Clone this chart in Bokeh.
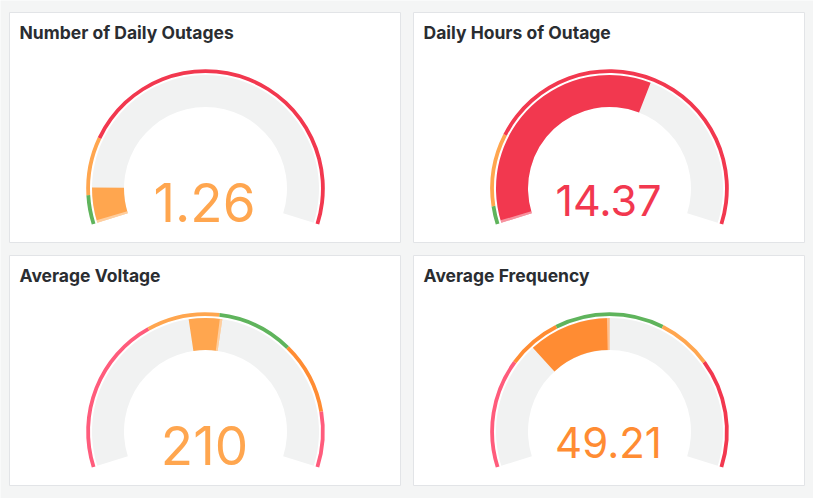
import math
from bokeh.plotting import figure
from bokeh.models import Range1d
from bokeh.core.properties import value
from bokeh.embed import file_html
from bokeh.resources import INLINE

# gauge data
titles = ["Number of Daily Outages", "Daily Hours of Outage", "Average Voltage", "Average Frequency"]
readings = [1.26, 14.37, 210, 49.21]
labels = ["1.26", "14.37", "210", "49.21"]
gauge_min = [0, 0, 152, 48]
gauge_max = [15, 24, 278, 52]
bar_start = [0, 0, 220, 50]          # where the filled bar begins
step_edges = [[1, 3], [1, 5], [198, 219, 241, 262], [49, 49.5, 50.5, 51]]

# colours
GREEN = "#5FB45C"
LORANGE = "#FFA64F"
ORANGE = "#FF8C33"
RED = "#F2384F"
PINK = "#FF5C7C"
BAND = "#F1F2F2"
BG = "#F4F5F5"

step_colors = [
    [GREEN, LORANGE, RED],
    [GREEN, LORANGE, RED],
    [PINK, LORANGE, GREEN, ORANGE, PINK],
    [PINK, ORANGE, GREEN, LORANGE, RED],
]
value_colors = [LORANGE, RED, LORANGE, ORANGE]
value_sizes = [53, 43, 53, 42]

W, H = 813, 498
panel_left = [9, 413, 9, 413]
panel_top = [12, 12, 255, 255]
PW, PH = 391, 230

A0, SPAN = 197.6, 215.2   # gauge sweep in degrees
SHIFT = 0.36              # baseline correction, in em


def fy(Y):
    return H - Y


def ang(v, lo, hi):
    return math.radians(A0 - SPAN * (v - lo) / (hi - lo))


p = figure(width=W, height=H, x_range=Range1d(0, W), y_range=Range1d(0, H),
           x_axis_type=None, y_axis_type=None, min_border=0,
           output_backend="svg", toolbar_location=None)
p.outline_line_color = None
p.background_fill_color = BG
p.border_fill_color = BG

# panel cards
p.quad(left=panel_left, right=[l + PW for l in panel_left],
       top=[fy(t) for t in panel_top], bottom=[fy(t + PH) for t in panel_top],
       fill_color="white", line_color="#E2E4E7", line_width=1)

for i in range(4):
    lo, hi = gauge_min[i], gauge_max[i]
    cx = panel_left[i] + 196
    cy = fy(panel_top[i] + 176)

    # background band
    p.annular_wedge(x=cx, y=cy, inner_radius=81.5, outer_radius=113.5,
                    start_angle=ang(hi, lo, hi), end_angle=ang(lo, lo, hi),
                    color=BAND, line_color=None)

    # value bar
    a, b = sorted([bar_start[i], readings[i]])
    p.annular_wedge(x=cx, y=cy, inner_radius=81.5, outer_radius=113.5,
                    start_angle=ang(b, lo, hi), end_angle=ang(a, lo, hi),
                    color=value_colors[i], line_color=None)
    # light edge where the bar begins
    a_s = ang(bar_start[i], lo, hi)
    d = math.radians(1.3) * (1 if readings[i] > bar_start[i] else -1)
    p.annular_wedge(x=cx, y=cy, inner_radius=81.5, outer_radius=113.5,
                    start_angle=min(a_s, a_s - d), end_angle=max(a_s, a_s - d),
                    color="white", alpha=0.45, line_color=None)

    # threshold ring
    edges = [lo] + step_edges[i] + [hi]
    for k, c in enumerate(step_colors[i]):
        p.annular_wedge(x=cx, y=cy, inner_radius=115.5, outer_radius=119.3,
                        start_angle=ang(edges[k + 1], lo, hi), end_angle=ang(edges[k], lo, hi),
                        color=c, line_color=None)

    # value text
    s = value_sizes[i]
    p.text(x=[cx - 1], y=[fy(panel_top[i] + 176 + 0.63 * s) + SHIFT * s], text=[labels[i]],
           text_font=value("Inter"), text_font_size=f"{s}px",
           text_color=value_colors[i], text_align="center", text_baseline="alphabetic")

    # title
    p.text(x=[panel_left[i] + 10], y=[fy(panel_top[i] + 26.5) + SHIFT * 17.5], text=[titles[i]],
           text_font=value("Inter"), text_font_size="17.5px", text_font_style="bold",
           text_color="#2A2D31", text_align="left", text_baseline="alphabetic")

open("out.html", "w").write(file_html(p, INLINE))
